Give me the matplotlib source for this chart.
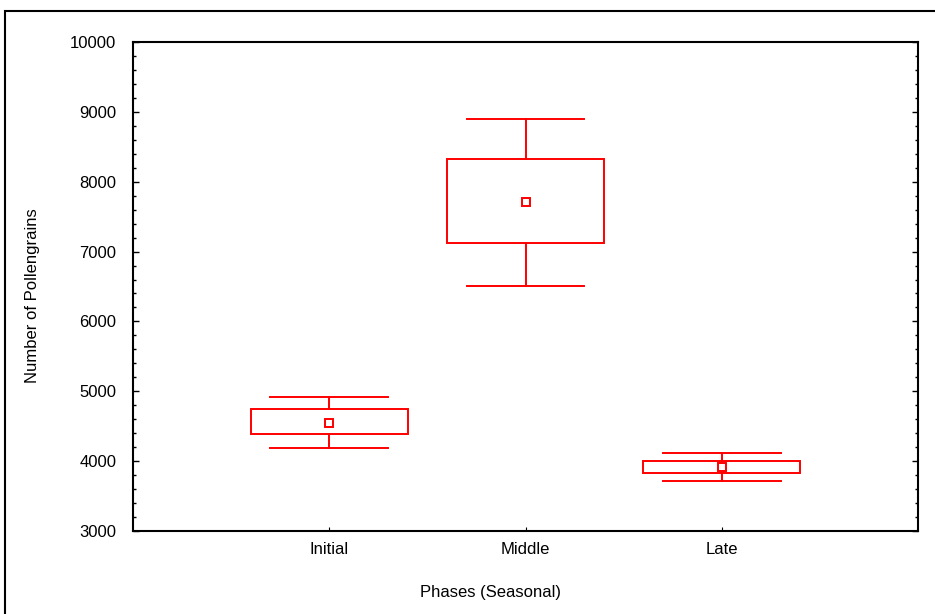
import numpy as np
import matplotlib
matplotlib.use('Agg')
import matplotlib.pyplot as plt
from matplotlib.patches import Rectangle
from matplotlib.ticker import MultipleLocator

plt.rcParams['font.family'] = ['Liberation Sans', 'DejaVu Sans']

# Data (mean, box = mean +/- SE, whiskers = mean +/- SD)
phases = ['Initial', 'Middle', 'Late']
means = [4550, 7710, 3920]
box_low = [4395, 7118, 3835]
box_high = [4742, 8321, 4006]
whisk_low = [4184, 6507, 3720]
whisk_high = [4914, 8902, 4112]

red = '#ff0000'
fs = 12

fig = plt.figure(figsize=(9.35, 6.14), dpi=100)
ax = fig.add_axes([133 / 935, 1 - 531 / 614, (918 - 133) / 935, (531 - 42) / 614])

# outer frame around the figure (right/bottom edges fall outside the picture)
fig.patches.append(Rectangle((5 / 935, -0.1), 1.2, 1 - 11 / 614 + 0.1,
                             transform=fig.transFigure, fill=False,
                             edgecolor='black', linewidth=1.5))

xs = np.arange(1, len(phases) + 1)
box_hw = 0.4
cap_hw = 0.3
for x, m, bl, bh, wl, wh in zip(xs, means, box_low, box_high, whisk_low, whisk_high):
    ax.add_patch(Rectangle((x - box_hw, bl), 2 * box_hw, bh - bl, fill=False,
                           edgecolor=red, linewidth=1.4))
    ax.plot([x, x], [bh, wh], color=red, lw=1.4)
    ax.plot([x, x], [wl, bl], color=red, lw=1.4)
    ax.plot([x - cap_hw, x + cap_hw], [wh, wh], color=red, lw=1.4)
    ax.plot([x - cap_hw, x + cap_hw], [wl, wl], color=red, lw=1.4)
    ax.plot([x], [m], marker='s', markersize=6, markerfacecolor='white',
            markeredgecolor=red, markeredgewidth=1.4)

ax.set_xlim(0, 4)
ax.set_ylim(3000, 10000)
ax.set_xticks(xs)
ax.set_xticklabels(phases)
ax.yaxis.set_major_locator(MultipleLocator(1000))
ax.yaxis.set_minor_locator(MultipleLocator(200))

ax.tick_params(axis='y', which='major', direction='in', length=4, width=1,
               labelsize=fs, right=True, pad=12)
ax.tick_params(axis='y', which='minor', direction='in', length=2.5, width=1, right=True)
ax.tick_params(axis='x', which='major', direction='in', length=3, width=0.8,
               labelsize=fs, pad=8)

for sp in ax.spines.values():
    sp.set_linewidth(1.5)

ax.set_ylabel('Number of Pollengrains', fontsize=fs, va='center')
ax.yaxis.set_label_coords((33 - 133) / 785, (531 - 296) / 489)
ax.set_xlabel('Phases (Seasonal)', fontsize=fs, va='center')
ax.xaxis.set_label_coords((490 - 133) / 785, (531 - 593) / 489)

fig.savefig('out.png', dpi=100)
